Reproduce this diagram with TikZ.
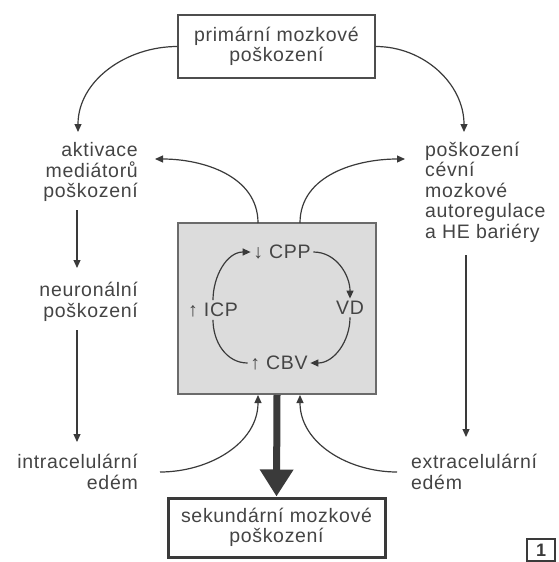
\documentclass[tikz,border=0pt]{standalone}
\usepackage{fontspec}
\setmainfont{Liberation Sans}[LetterSpace=3.5]
\usetikzlibrary{arrows.meta}
\definecolor{ln}{HTML}{3A3A3A}
\definecolor{tx}{HTML}{444444}
\definecolor{gfill}{HTML}{DCDCDC}
\tikzset{
  lbl/.style={inner sep=0pt, text=tx, font=\fontsize{19.5}{20.5}\selectfont},
  cyc/.style={lbl, inner sep=2.5pt},
  conn/.style={draw=ln, line width=1.2pt, -{Triangle[length=8pt,width=7pt]}},
  plain/.style={draw=ln, line width=1.2pt},
}
\begin{document}
\begin{tikzpicture}[x=1pt,y=-1pt]
\useasboundingbox (0,0) rectangle (558,562);
% boxes
\node[lbl, draw=ln!90, line width=1.3pt, minimum width=197pt, minimum height=63pt, align=center] (top) at (276.5,46.5) {primární mozkové\\poškození};
\node[draw=ln!75, fill=gfill, line width=1.8pt, minimum width=198pt, minimum height=171pt, inner sep=0pt] (gbox) at (277,308.5) {};
\node[lbl, draw=ln, line width=3pt, minimum width=217pt, minimum height=59pt, align=center] (bot) at (276.5,527.5) {sekundární mozkové\\poškození};
\node[draw=ln, line width=1.8pt, minimum width=28pt, minimum height=22pt, inner sep=0pt, font=\fontsize{18}{18}\bfseries\selectfont, text=ln] (num) at (541,550) {1};
% side texts
\node[lbl, anchor=east, align=right] (akt) at (138,172) {aktivace\\mediátorů\\poškození};
\node[lbl, anchor=east, align=right] (neur) at (138,302) {neuronální\\poškození};
\node[lbl, anchor=east, align=right] (intra) at (138,472) {intracelulární\\edém};
\node[lbl, anchor=west, align=left] (cev) at (425,192) {poškození\\cévní\\mozkové\\autoregulace\\a HE bariéry};
\node[lbl, anchor=west, align=left] (extra) at (411,472) {extracelulární\\edém};
% cycle
\node[cyc] (cpp) at (282,252) {↓ CPP};
\node[cyc] (vd) at (350,308) {VD};
\node[cyc] (cbv) at (279,363) {↑ CBV};
\node[cyc] (icp) at (213,310) {↑ ICP};
% coordinates
\coordinate (tl) at (78,132);
\coordinate (tr) at (464,132);
\coordinate (gtl) at (258,223);
\coordinate (gtr) at (300,223);
\coordinate (ml) at (155,159);
\coordinate (mr) at (405,159);
\coordinate (v1a) at (77,210);
\coordinate (v1b) at (77,268);
\coordinate (v2a) at (77,330);
\coordinate (v2b) at (77,442);
\coordinate (v3a) at (466,255);
\coordinate (v3b) at (466,437);
\coordinate (il) at (160,472);
\coordinate (ir) at (397,472);
\coordinate (gbl) at (258,395);
\coordinate (gbr) at (300,395);
\coordinate (gbc) at (277,395);
% connectors
\draw[conn] (top.west) to[out=180,in=90] (tl);
\draw[conn] (top.east) to[out=0,in=90] (tr);
\draw[conn] (gtl) to[out=90,in=0] (ml);
\draw[conn] (gtr) to[out=90,in=180] (mr);
\draw[conn] (v1a) -- (v1b);
\draw[conn] (v2a) -- (v2b);
\draw[conn] (v3a) -- (v3b);
\draw[conn] (il) to[out=0,in=-90] (gbl);
\draw[conn] (ir) to[out=180,in=-90] (gbr);
\draw[draw=ln, line width=7pt, -{Triangle[length=27pt,width=32pt]}] (gbc) -- (bot.north);
\draw[conn] (icp.north) to[out=90,in=180] (cpp.west);
\draw[conn] (cpp.east) to[out=0,in=90] (vd.north);
\draw[conn] (vd.south) to[out=-90,in=0] (cbv.east);
\draw[plain] (cbv.west) to[out=180,in=-90] (icp.south);
\end{tikzpicture}
\end{document}
